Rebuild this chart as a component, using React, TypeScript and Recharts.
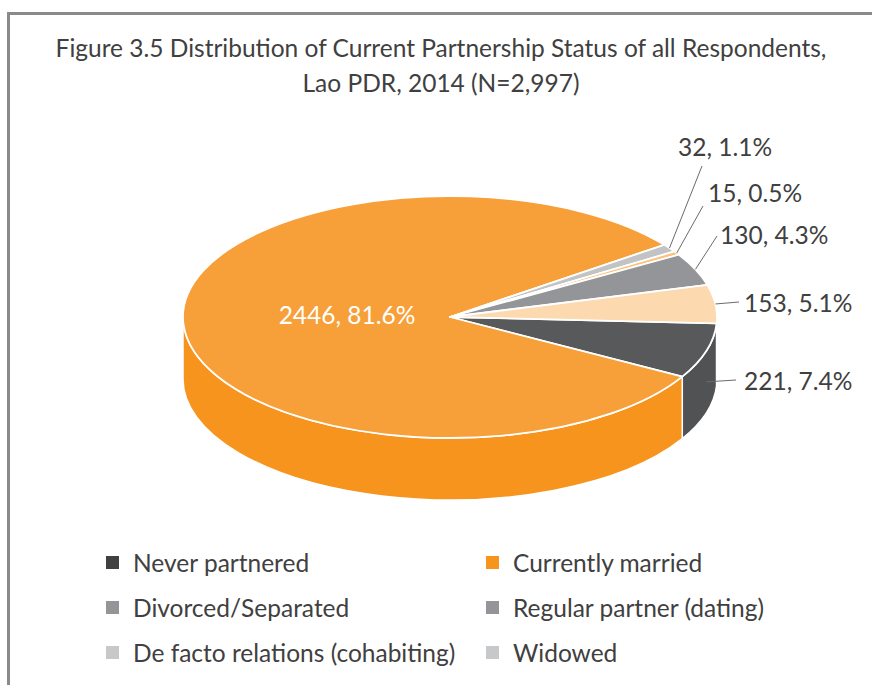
import React from 'react';
import { PieChart, Pie, Cell, Legend } from 'recharts';

// ---- data ----
const CATEGORIES = [
  'Never partnered',
  'Currently married',
  'Divorced/Separated',
  'Regular partner (dating)',
  'De facto relations (cohabiting)',
  'Widowed',
];
const COUNTS = [221, 2446, 32, 15, 130, 153];
const TITLE_LINES = [
  'Figure 3.5 Distribution of Current Partnership Status of all Respondents,',
  'Lao PDR, 2014 (N=2,997)',
];

// ---- styles ----
const TOP_COLORS = ['#58595B', '#F79F39', '#C2C3C5', '#FDBF7A', '#939598', '#FDD9B0'];
const SIDE_COLORS = ['#515254', '#F7941E', '#B5B6B8', '#F9B25F', '#87898C', '#F8CD9C'];
const LEGEND_COLORS = ['#404040', '#F7941E', '#939598', '#939598', '#C7C8CA', '#C7C8CA'];
const FONT = 'Lato, "Noto Sans", sans-serif';
const FS = 24.5;
const TEXT_COLOR = '#404040';
const RY_RATIO = 0.453;
const DEPTH = 62;
const RAD = Math.PI / 180;
// label placement (relative to pie centre): text left/centre, leader end
const LABEL_LAYOUT = [
  { tx: 294, ty: 63, lx: 286, ly: 63 },
  { tx: -103, ty: -3, lx: 0, ly: 0 },
  { tx: 228, ty: -171, lx: 252, ly: -151 },
  { tx: 258, ty: -125, lx: 253, ly: -111 },
  { tx: 270, ty: -83, lx: 267, ly: -81 },
  { tx: 294, ty: -15, lx: 289, ly: -15 },
];

const data = CATEGORIES.map((name, i) => ({ name, value: COUNTS[i] }));

function Slice3D(props: any) {
  const { cx, cy, outerRadius, startAngle, endAngle, index } = props;
  const rx = outerRadius;
  const ry = outerRadius * RY_RATIO;
  const s1 = -startAngle;
  const s2 = -endAngle;
  const a = Math.min(s1, s2);
  const b = Math.max(s1, s2);
  const pt = (s: number, dy = 0) => `${cx + rx * Math.cos(s * RAD)},${cy + ry * Math.sin(s * RAD) + dy}`;
  const large = b - a > 180 ? 1 : 0;
  const top = `M${cx},${cy} L${pt(a)} A${rx},${ry} 0 ${large} 1 ${pt(b)} Z`;
  const sides: string[] = [];
  for (let k = -1; k <= 1; k++) {
    const lo = Math.max(a, 360 * k);
    const hi = Math.min(b, 360 * k + 180);
    if (hi > lo) {
      sides.push(
        `M${pt(lo)} A${rx},${ry} 0 0 1 ${pt(hi)} L${pt(hi, DEPTH)} A${rx},${ry} 0 0 0 ${pt(lo, DEPTH)} Z`
      );
    }
  }
  const idx = typeof index === 'number' ? index : 0;
  return (
    <g>
      {sides.map((d, i) => (
        <path key={i} d={d} fill={SIDE_COLORS[idx]} stroke="#fff" strokeWidth={1.5} strokeLinejoin="round" />
      ))}
      <path d={top} fill={TOP_COLORS[idx]} stroke="#fff" strokeWidth={1.8} strokeLinejoin="round" />
    </g>
  );
}

function renderLabel(p: any) {
  const { cx, cy, midAngle, outerRadius, index, value, percent } = p;
  const text = `${value}, ${(percent * 100).toFixed(1)}%`;
  const L = LABEL_LAYOUT[index];
  if (index === 1) {
    return (
      <text x={cx + L.tx} y={cy + L.ty} fill="#fff" fontSize={FS} fontFamily={FONT}
        textAnchor="middle" dominantBaseline="central">{text}</text>
    );
  }
  const rx = outerRadius;
  const ry = outerRadius * RY_RATIO;
  const s = -midAngle;
  const sn = Math.sin(s * RAD);
  const ax = cx + rx * Math.cos(s * RAD);
  const ay = cy + ry * sn + (sn > 0.1 ? DEPTH / 2 : 0);
  return (
    <g>
      <line x1={ax} y1={ay} x2={cx + L.lx} y2={cy + L.ly} stroke="#6b6b6b" strokeWidth={1} />
      <text x={cx + L.tx} y={cy + L.ty} fill={TEXT_COLOR} fontSize={FS} fontFamily={FONT}
        dominantBaseline="central">{text}</text>
    </g>
  );
}

function LegendContent() {
  return (
    <div style={{ position: 'relative', width: 872, height: 140 }}>
      {CATEGORIES.map((name, i) => {
        const col = i % 2;
        const row = Math.floor(i / 2);
        return (
          <div key={name} style={{ position: 'absolute', left: col === 0 ? 106 : 486, top: row * 45, height: 26, display: 'flex', alignItems: 'center', whiteSpace: 'nowrap' }}>
            <span style={{ display: 'inline-block', width: 13, height: 13, background: LEGEND_COLORS[i], marginRight: 14 }} />
            <span style={{ fontFamily: FONT, fontSize: FS, color: TEXT_COLOR }}>{name}</span>
          </div>
        );
      })}
    </div>
  );
}

export default function App() {
  return (
    <div style={{ position: 'absolute', left: 0, top: 0, width: 872, height: 685, overflow: 'hidden', background: '#fff' }}>
      <div style={{ position: 'absolute', left: 7, top: 12, width: 900, height: 700, border: '3px solid #8a8a8a' }} />
      <svg width={872} height={110} style={{ position: 'absolute', left: 0, top: 0 }}>
        {TITLE_LINES.map((t, i) => (
          <text key={i} x={441} y={i === 0 ? 57 : 92} textAnchor="middle" fontFamily={FONT} fontSize={FS} fill={TEXT_COLOR}>{t}</text>
        ))}
      </svg>
      <div style={{ position: 'absolute', left: 0, top: 0 }}>
        <PieChart width={872} height={685} margin={{ top: 0, right: 0, bottom: 0, left: 0 }}>
          <Pie
            data={data}
            dataKey="value"
            nameKey="name"
            cx={450}
            cy={317}
            outerRadius={267}
            startAngle={-3}
            endAngle={-363}
            stroke="#fff"
            isAnimationActive={false}
            shape={Slice3D}
            activeShape={Slice3D}
            inactiveShape={Slice3D}
            label={renderLabel}
            labelLine={false}
          >
            {data.map((d, i) => (
              <Cell key={d.name} fill={TOP_COLORS[i]} />
            ))}
          </Pie>
          <Legend
            verticalAlign="bottom"
            content={() => <LegendContent />}
            wrapperStyle={{ position: 'absolute', left: 0, top: 549, width: 872, height: 140 }}
          />
        </PieChart>
      </div>
    </div>
  );
}
